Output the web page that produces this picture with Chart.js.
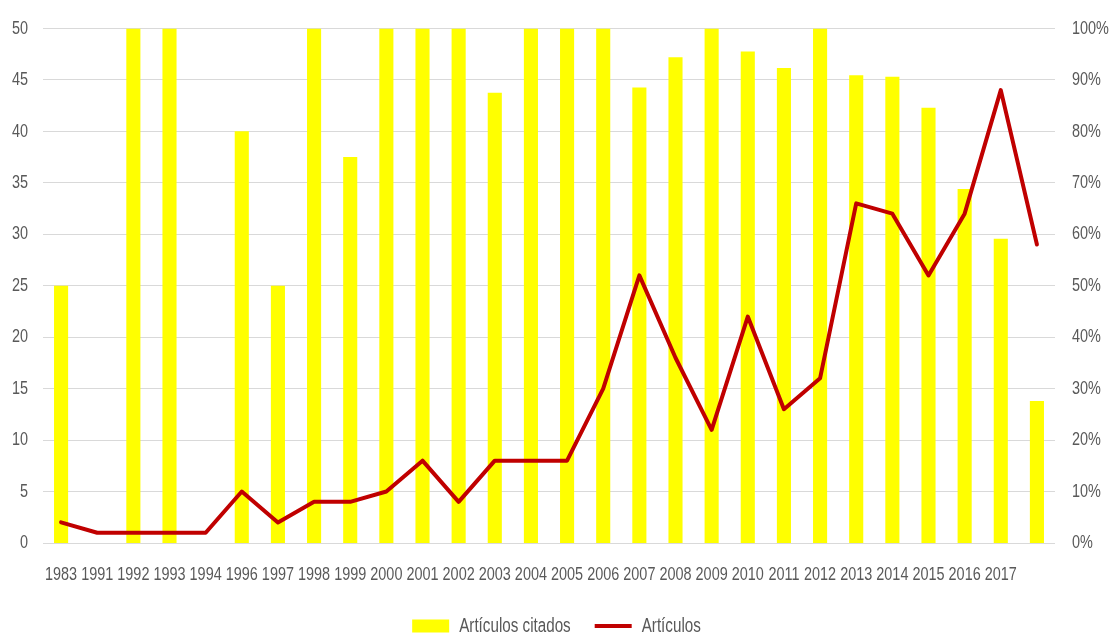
<!DOCTYPE html>
<html>
<head>
<meta charset="utf-8">
<script src="https://cdn.jsdelivr.net/npm/chart.js@4/dist/chart.umd.min.js"></script>
<style>
  html, body { margin: 0; padding: 0; background: #fff; }
  #wrap { width: 1113px; height: 634px; }
</style>
</head>
<body>
<div id="wrap"><canvas id="grafico"></canvas></div>
<script>
// datos
const anios = ['1983','1991','1992','1993','1994','1996','1997','1998','1999','2000',
  '2001','2002','2003','2004','2005','2006','2007','2008','2009','2010',
  '2011','2012','2013','2014','2015','2016','2017',''];
const articulos = [2, 1, 1, 1, 1, 5, 2, 4, 4, 5, 8, 4, 8, 8, 8, 15, 26, 18, 11, 22, 13, 16, 33, 32, 26, 32, 44, 29];
const citadosPct = [50, 0, 100, 100, 0, 80, 50, 100, 75, 100, 100, 100, 87.5, 100, 100, 100, 88.5, 94.4, 100, 95.5,
  92.3, 100, 90.9, 90.6, 84.6, 68.8, 59.1, 27.6];
const ticksIzq = [0, 5, 10, 15, 20, 25, 30, 35, 40, 45, 50];

const fuente = "'Liberation Sans', Arial, sans-serif";
const gris = '#595959';

// letra estrecha: se comprime el texto en horizontal (no hay fuente narrow instalada)
const ESTRECHO = 0.76;
const canvas = document.getElementById('grafico');
const ctx = canvas.getContext('2d');
const fillOrig = ctx.fillText.bind(ctx);
const measureOrig = ctx.measureText.bind(ctx);
ctx.fillText = function (t, x, y) {
  ctx.save();
  ctx.translate(x, y);
  ctx.scale(ESTRECHO, 1);
  fillOrig(t, 0, 0);
  ctx.restore();
};
ctx.measureText = function (t) {
  const m = measureOrig(t);
  return {
    width: m.width * ESTRECHO,
    actualBoundingBoxAscent: m.actualBoundingBoxAscent,
    actualBoundingBoxDescent: m.actualBoundingBoxDescent,
    actualBoundingBoxLeft: m.actualBoundingBoxLeft * ESTRECHO,
    actualBoundingBoxRight: m.actualBoundingBoxRight * ESTRECHO
  };
};

new Chart(ctx, {
  data: {
    labels: anios,
    datasets: [
      {
        type: 'bar',
        label: 'Artículos citados',
        data: citadosPct,
        yAxisID: 'y1',
        backgroundColor: '#ffff00',
        borderWidth: 0,
        barPercentage: 0.39,
        categoryPercentage: 1,
        order: 1
      },
      {
        type: 'line',
        label: 'Artículos',
        data: articulos,
        yAxisID: 'y',
        borderColor: '#c00000',
        backgroundColor: '#c00000',
        borderWidth: 4,
        pointRadius: 0,
        pointStyle: 'line',
        borderJoinStyle: 'round',
        borderCapStyle: 'round',
        tension: 0,
        order: 0
      }
    ]
  },
  options: {
    responsive: true,
    maintainAspectRatio: false,
    animation: false,
    layout: { padding: { top: 26, left: 0, right: 0, bottom: -12 } },
    plugins: {
      tooltip: { enabled: false },
      legend: {
        position: 'bottom',
        labels: {
          font: { family: fuente, size: 20 },
          color: gris,
          usePointStyle: true,
          pointStyleWidth: 37,
          boxHeight: 13,
          padding: 24,
          sort: (a, b) => a.datasetIndex - b.datasetIndex,
          generateLabels: (chart) => {
            const items = Chart.defaults.plugins.legend.labels.generateLabels(chart);
            items.forEach(it => {
              if (it.datasetIndex === 0) { it.pointStyle = 'rect'; it.lineWidth = 0; }
              else { it.pointStyle = 'line'; it.lineWidth = 4; it.strokeStyle = '#c00000'; }
            });
            return items;
          }
        }
      }
    },
    scales: {
      x: {
        grid: { display: false, drawTicks: false },
        border: { display: false },
        ticks: {
          font: { family: fuente, size: 19 },
          color: gris,
          autoSkip: false,
          maxRotation: 0,
          padding: 20
        },
        afterFit: (scale) => { scale.height = 49; }
      },
      y: {
        position: 'left',
        min: 0,
        max: 50,
        afterBuildTicks: (scale) => { scale.ticks = ticksIzq.map(v => ({ value: v })); },
        grid: { color: '#d9d9d9', lineWidth: 1, drawTicks: false },
        border: { display: false },
        ticks: { font: { family: fuente, size: 19 }, color: gris, padding: 15 },
        afterFit: (scale) => { scale.width = 43; }
      },
      y1: {
        position: 'right',
        min: 0,
        max: 100,
        grid: { display: false, drawTicks: false },
        border: { display: false },
        ticks: {
          stepSize: 10,
          font: { family: fuente, size: 19 },
          color: gris,
          padding: 17,
          callback: (v) => v + '%'
        },
        afterFit: (scale) => { scale.width = 58; }
      }
    }
  }
});
</script>
</body>
</html>
